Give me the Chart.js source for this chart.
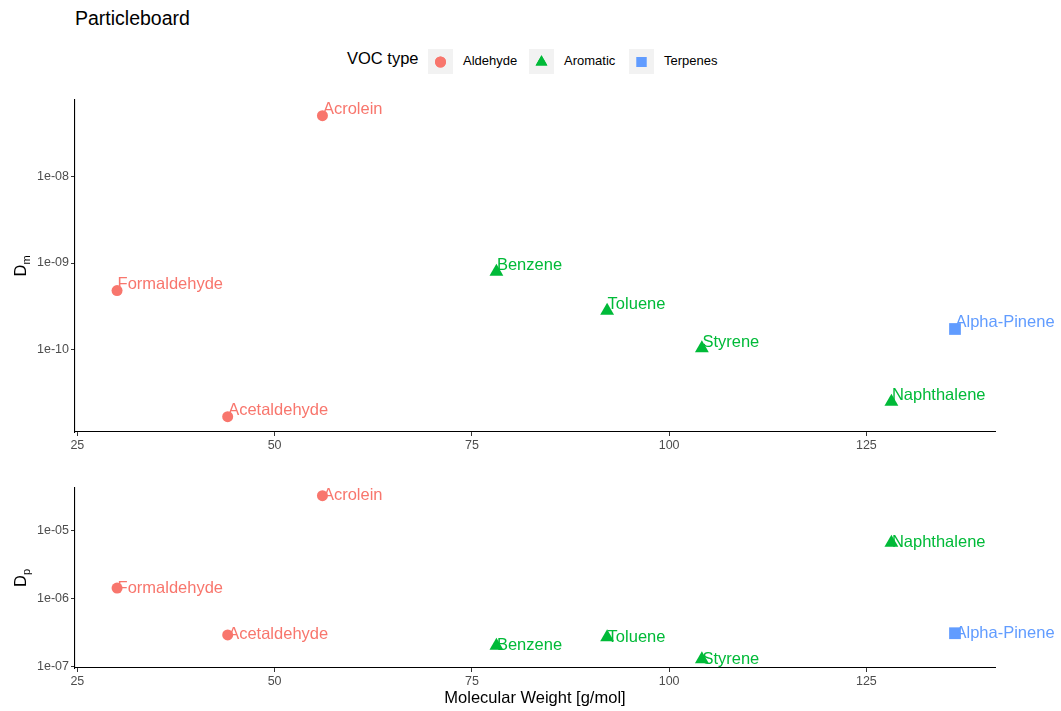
<!DOCTYPE html>
<html>
<head>
<meta charset="utf-8">
<script src="https://cdn.jsdelivr.net/npm/chart.js@4/dist/chart.umd.min.js"></script>
<style>
  body { margin: 0; background: #fff; font-family: "Liberation Sans", Arial, sans-serif; }
  #wrap { position: relative; width: 1061px; height: 711px; }
  canvas { position: absolute; left: 0; }
  .title { position: absolute; left: 75px; top: 7px; font-size: 19.5px; color: #000; }
  .legend { position: absolute; top: 48px; left: 347px; height: 26px; }
  .legend .hdr { position: absolute; left: 0; top: 1px; font-size: 16.5px; white-space: nowrap; }
  .legend .key { position: absolute; top: 1px; width: 25px; height: 25px; background: #f2f2f2; }
  .legend .lab { position: absolute; top: 5px; font-size: 13px; white-space: nowrap; }
  .xtitle { position: absolute; top: 688px; left: 75px; width: 920px; text-align: center; font-size: 16.5px; }
</style>
</head>
<body>
<div id="wrap">
  <div class="title">Particleboard</div>
  <div class="legend" id="legend"><span class="hdr">VOC type</span></div>
  <canvas id="dmChart" width="1061" height="460" style="top:0"></canvas>
  <canvas id="dpChart" width="1061" height="251" style="top:460px"></canvas>
  <div class="xtitle">Molecular Weight [g/mol]</div>
</div>
<script>
  // data
  const names = ['Formaldehyde', 'Acetaldehyde', 'Acrolein', 'Benzene', 'Toluene', 'Styrene', 'Naphthalene', 'Alpha-Pinene'];
  const vocType = ['Aldehyde', 'Aldehyde', 'Aldehyde', 'Aromatic', 'Aromatic', 'Aromatic', 'Aromatic', 'Terpenes'];
  const molWeight = [30.03, 44.05, 56.06, 78.11, 92.14, 104.15, 128.17, 136.23];
  const dmValues = [4.8e-10, 1.66e-11, 5.1e-8, 7.9e-10, 2.8e-10, 1.03e-10, 2.47e-11, 1.72e-10];
  const dpValues = [1.44e-6, 2.94e-7, 3.32e-5, 2.04e-7, 2.72e-7, 1.29e-7, 6.73e-6, 3.11e-7];
  const xTicks = [25, 50, 75, 100, 125];
  const dmTicks = [1e-10, 1e-9, 1e-8];
  const dpTicks = [1e-7, 1e-6, 1e-5];

  const types = ['Aldehyde', 'Aromatic', 'Terpenes'];
  const typeColor = { Aldehyde: '#F8766D', Aromatic: '#00BA38', Terpenes: '#619CFF' };
  const typeShape = { Aldehyde: 'circle', Aromatic: 'triangle', Terpenes: 'rect' };
  const typeRadius = { Aldehyde: 5.5, Aromatic: 8, Terpenes: 8.3 };
  const FONT = '"Liberation Sans", Arial, sans-serif';

  // legend (html)
  const legend = document.getElementById('legend');
  const keyLeft = [81, 182, 282];
  types.forEach((t, i) => {
    const key = document.createElement('div');
    key.className = 'key';
    key.style.left = keyLeft[i] + 'px';
    const c = document.createElement('canvas');
    c.width = 25; c.height = 25;
    c.style.position = 'static';
    key.appendChild(c);
    const g = c.getContext('2d');
    g.fillStyle = typeColor[t];
    Chart.helpers.drawPoint(g, { pointStyle: typeShape[t], radius: typeRadius[t] * (t === 'Aldehyde' ? 1 : 0.85), borderWidth: 0 }, 12.5, 13);
    g.fill();
    legend.appendChild(key);
    const lab = document.createElement('span');
    lab.className = 'lab';
    lab.style.left = (keyLeft[i] + 35) + 'px';
    lab.textContent = t;
    legend.appendChild(lab);
  });

  function buildDatasets(values) {
    return types.map(t => ({
      label: t,
      data: names.map((n, i) => ({ x: molWeight[i], y: values[i], name: n, t: vocType[i] })).filter(d => d.t === t),
      backgroundColor: typeColor[t],
      borderWidth: 0,
      pointStyle: typeShape[t],
      pointRadius: typeRadius[t],
      pointHoverRadius: typeRadius[t]
    }));
  }

  function expLabel(v) {
    const e = Math.round(Math.log10(v));
    const s = Math.abs(e) < 10 ? '0' + Math.abs(e) : '' + Math.abs(e);
    return '1e' + (e < 0 ? '-' : '+') + s;
  }

  const pointLabels = {
    id: 'pointLabels',
    afterDatasetsDraw(chart, args, opts) {
      const ctx = chart.ctx;
      ctx.save();
      ctx.font = '16.5px ' + FONT;
      ctx.textAlign = 'left';
      ctx.textBaseline = opts.baseline;
      chart.data.datasets.forEach((ds, di) => {
        const meta = chart.getDatasetMeta(di);
        ctx.fillStyle = ds.backgroundColor;
        meta.data.forEach((el, i) => {
          ctx.fillText(ds.data[i].name, el.x + 0.5, el.y + (opts.dy || 0));
        });
      });
      ctx.restore();
    }
  };

  const yTitle = {
    id: 'yTitle',
    afterDraw(chart, args, opts) {
      const ctx = chart.ctx;
      const a = chart.chartArea;
      const cy = (a.top + a.bottom) / 2;
      ctx.save();
      ctx.translate(26, cy);
      ctx.rotate(-Math.PI / 2);
      ctx.fillStyle = '#000';
      ctx.textBaseline = 'alphabetic';
      ctx.font = '16.5px ' + FONT;
      const w = ctx.measureText('D').width;
      ctx.font = '11px ' + FONT;
      const ws = ctx.measureText(opts.sub).width;
      const x0 = -(w + ws) / 2;
      ctx.font = '16.5px ' + FONT;
      ctx.fillText('D', x0, 0);
      ctx.font = '11px ' + FONT;
      ctx.fillText(opts.sub, x0 + w, 4);
      ctx.restore();
    }
  };

  function makeChart(id, values, yTicks, yMin, yMax, padTop, axisH, labelOpts, sub) {
    const ctx = document.getElementById(id);
    return new Chart(ctx, {
      type: 'scatter',
      data: { datasets: buildDatasets(values) },
      options: {
        responsive: false,
        animation: false,
        layout: { padding: { top: padTop, right: 66, left: 0, bottom: 0 } },
        plugins: {
          legend: { display: false },
          tooltip: { enabled: false },
          pointLabels: labelOpts,
          yTitle: { sub }
        },
        scales: {
          x: {
            type: 'linear',
            min: 24.7,
            max: 141.3,
            afterBuildTicks: s => { s.ticks = xTicks.map(v => ({ value: v })); },
            afterFit: s => { s.height = axisH; },
            grid: { drawOnChartArea: false, drawTicks: true, tickLength: 4, color: '#333' },
            border: { color: '#000', width: 1.1 },
            ticks: { color: '#4d4d4d', font: { family: FONT, size: 12.5 }, padding: 2, maxRotation: 0 }
          },
          y: {
            type: 'logarithmic',
            min: yMin,
            max: yMax,
            afterBuildTicks: s => { s.ticks = yTicks.map(v => ({ value: v })); },
            afterFit: s => { s.width = 75; },
            grid: { drawOnChartArea: false, drawTicks: true, tickLength: 4, color: '#333' },
            border: { color: '#000', width: 1.1 },
            ticks: { color: '#4d4d4d', font: { family: FONT, size: 12.5 }, padding: 2, callback: v => expLabel(v) }
          }
        }
      },
      plugins: [pointLabels, yTitle]
    });
  }

  makeChart('dmChart', dmValues, dmTicks, Math.pow(10, -10.958), Math.pow(10, -7.111), 100, 28,
    { baseline: 'alphabetic', dy: -1.5 }, 'm');
  makeChart('dpChart', dpValues, dpTicks, Math.pow(10, -7.02), Math.pow(10, -4.366), 28, 43,
    { baseline: 'middle', dy: 0 }, 'p');
</script>
</body>
</html>
